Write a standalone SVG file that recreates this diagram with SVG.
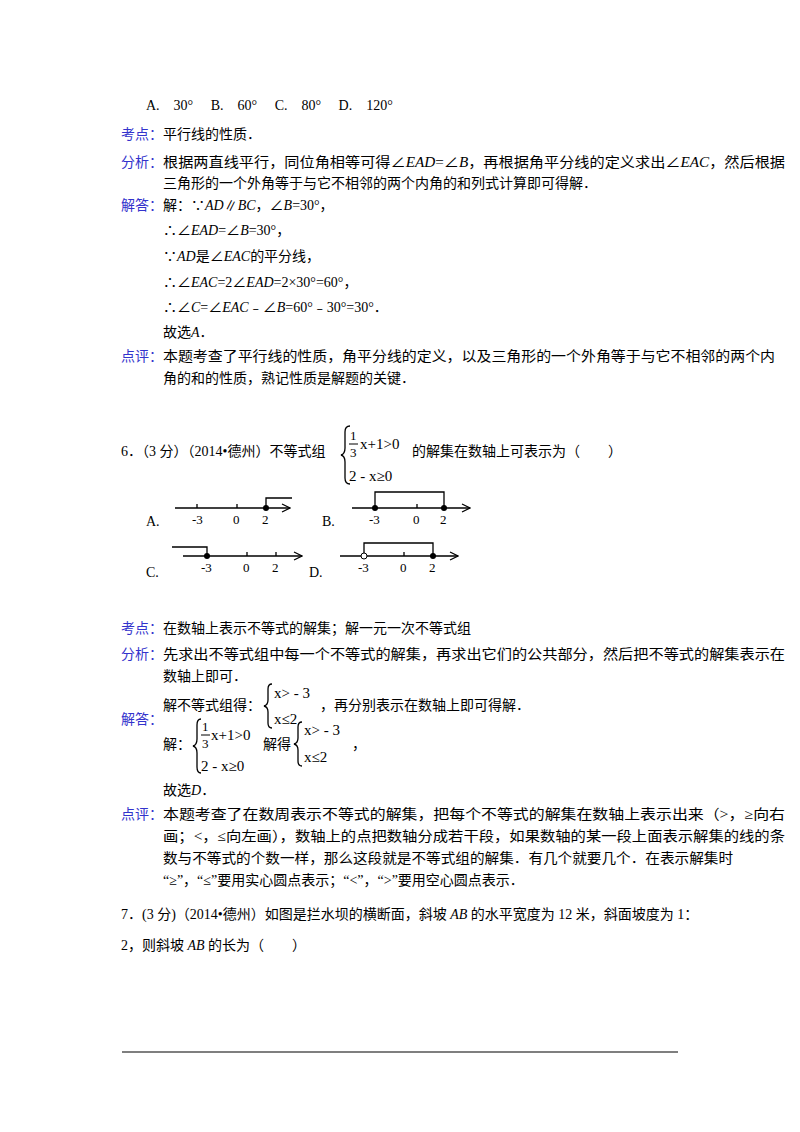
<svg xmlns="http://www.w3.org/2000/svg" width="800" height="1132" viewBox="0 0 800 1132">
<style>
text{font-family:"Liberation Serif","Noto Sans CJK SC",serif;font-size:14px;fill:#000}
.l{fill:#3333cc}
.i{font-style:italic}
.s{font-size:15px}
.f{font-size:13px}
.ax{stroke:#000;stroke-width:1.3;fill:none}
</style>
<defs><marker id="ar" markerWidth="10" markerHeight="10" refX="9" refY="5" orient="auto" markerUnits="userSpaceOnUse"><path d="M1,1 L9,5 L1,9" fill="none" stroke="#000" stroke-width="1.2"/></marker></defs>
<rect width="800" height="1132" fill="#fff"/>
<text x="146" y="110" xml:space="preserve">A.　30°　 B.　60°　 C.　80°　 D.　120°</text>
<text class="l" x="121" y="139">考点：</text><text x="163" y="139">平行线的性质．</text>
<text class="l" x="121" y="167">分析：</text>
<text x="163" y="167" textLength="622" lengthAdjust="spacingAndGlyphs">根据两直线平行，同位角相等可得∠<tspan class="i">EAD</tspan>=∠<tspan class="i">B</tspan>，再根据角平分线的定义求出∠<tspan class="i">EAC</tspan>，然后根据</text>
<text x="163" y="188">三角形的一个外角等于与它不相邻的两个内角的和列式计算即可得解．</text>
<text class="l" x="121" y="210">解答：</text>
<text x="163" y="210">解：∵<tspan class="i">AD</tspan>∥<tspan class="i">BC</tspan>，∠<tspan class="i">B</tspan>=30°，</text>
<text x="163" y="235">∴∠<tspan class="i">EAD</tspan>=∠<tspan class="i">B</tspan>=30°，</text>
<text x="163" y="261">∵<tspan class="i">AD</tspan>是∠<tspan class="i">EAC</tspan>的平分线，</text>
<text x="163" y="287">∴∠<tspan class="i">EAC</tspan>=2∠<tspan class="i">EAD</tspan>=2×30°=60°，</text>
<text x="163" y="312">∴∠<tspan class="i">C</tspan>=∠<tspan class="i">EAC</tspan>﹣∠<tspan class="i">B</tspan>=60°﹣30°=30°．</text>
<text x="163" y="337">故选<tspan class="i">A</tspan>．</text>
<text class="l" x="121" y="361">点评：</text>
<text x="163" y="361" textLength="612" lengthAdjust="spacingAndGlyphs">本题考查了平行线的性质，角平分线的定义，以及三角形的一个外角等于与它不相邻的两个内</text>
<text x="163" y="383">角的和的性质，熟记性质是解题的关键．</text>

<text x="121" y="456">6．（3 分）（2014•德州）不等式组</text>
<path d="M350,426 q-5,0 -5,6 v16 q0,6 -4,7 q4,1 4,7 v16 q0,6 5,6" class="ax"/>
<text x="350" y="440" class="f">1</text><line x1="349" y1="444" x2="358" y2="444" stroke="#000"/><text x="350" y="457" class="f">3</text>
<text x="360" y="449" class="s">x+1&gt;0</text>
<text x="349" y="481" class="s">2 - x≥0</text>
<text x="412" y="456">的解集在数轴上可表示为（　　）</text>

<g id="A">
<line x1="175" y1="508" x2="290" y2="508" class="ax" marker-end="url(#ar)"/>
<path d="M197,508v-4M237,508v-4" class="ax"/>
<circle cx="266" cy="508" r="3"/><path d="M266,508v-10h26" class="ax"/>
<text x="192" y="524" class="f">-3</text><text x="233" y="524" class="f">0</text><text x="262" y="524" class="f">2</text>
<text x="146" y="526">A.</text></g>
<g id="B">
<line x1="352" y1="508" x2="470" y2="508" class="ax" marker-end="url(#ar)"/>
<path d="M417,508v-4M375,508v-16h69v16" class="ax"/>
<circle cx="375" cy="508" r="3"/><circle cx="444" cy="508" r="3"/>
<text x="369" y="524" class="f">-3</text><text x="413" y="524" class="f">0</text><text x="440" y="524" class="f">2</text>
<text x="322" y="526">B.</text></g>
<g id="C">
<line x1="183" y1="556" x2="302" y2="556" class="ax" marker-end="url(#ar)"/>
<path d="M247,556v-4M276,556v-4M172,547h35v9" class="ax"/>
<circle cx="207" cy="556" r="3"/>
<text x="201" y="572" class="f">-3</text><text x="243" y="572" class="f">0</text><text x="272" y="572" class="f">2</text>
<text x="146" y="577">C.</text></g>
<g id="D">
<line x1="340" y1="556" x2="458" y2="556" class="ax" marker-end="url(#ar)"/>
<path d="M404,556v-4M364,553v-10h69v13" class="ax"/>
<circle cx="364" cy="556" r="3" fill="#fff" stroke="#000"/><circle cx="433" cy="556" r="3"/>
<text x="358" y="572" class="f">-3</text><text x="400" y="572" class="f">0</text><text x="429" y="572" class="f">2</text>
<text x="309" y="577">D.</text></g>

<text class="l" x="121" y="633">考点：</text><text x="163" y="633">在数轴上表示不等式的解集；解一元一次不等式组</text>
<text class="l" x="121" y="659">分析：</text>
<text x="163" y="659" textLength="622" lengthAdjust="spacingAndGlyphs">先求出不等式组中每一个不等式的解集，再求出它们的公共部分，然后把不等式的解集表示在</text>
<text x="163" y="681">数轴上即可．</text>
<text x="163" y="710">解不等式组得：</text>
<path d="M272,684 q-4,0 -4,5 v11 q0,5 -4,6 q4,1 4,6 v11 q0,5 4,5" class="ax"/>
<text x="274" y="698" class="s">x&gt; - 3</text><text x="274" y="724" class="s">x≤2</text>
<text x="320" y="710">，再分别表示在数轴上即可得解．</text>

<text class="l" x="121" y="724">解答：</text>
<text x="163" y="749">解：</text>
<path d="M201,719 q-4,0 -4,6 v14 q0,6 -4,7 q4,1 4,7 v14 q0,6 4,6" class="ax"/>
<text x="202" y="731" class="f">1</text><line x1="201" y1="735" x2="210" y2="735" stroke="#000"/><text x="202" y="748" class="f">3</text>
<text x="211" y="740" class="s">x+1&gt;0</text>
<text x="201" y="771" class="s">2 - x≥0</text>
<text x="263" y="749">解得</text>
<path d="M302,722 q-4,0 -4,5 v11 q0,5 -4,6 q4,1 4,6 v11 q0,5 4,5" class="ax"/>
<text x="304" y="735" class="s">x&gt; - 3</text><text x="304" y="762" class="s">x≤2</text>
<text x="352" y="749">，</text>
<text x="163" y="795">故选<tspan class="i">D</tspan>．</text>

<text class="l" x="121" y="819">点评：</text>
<text x="163" y="819" textLength="622" lengthAdjust="spacingAndGlyphs">本题考查了在数周表示不等式的解集，把每个不等式的解集在数轴上表示出来（&gt;，≥向右</text>
<text x="163" y="841" textLength="622" lengthAdjust="spacingAndGlyphs">画；&lt;，≤向左画），数轴上的点把数轴分成若干段，如果数轴的某一段上面表示解集的线的条</text>
<text x="163" y="863" textLength="570" lengthAdjust="spacingAndGlyphs">数与不等式的个数一样，那么这段就是不等式组的解集．有几个就要几个．在表示解集时</text>
<text x="163" y="885">“≥”，“≤”要用实心圆点表示；“&lt;”，“&gt;”要用空心圆点表示．</text>

<text x="121" y="919">7．(3 分)（2014•德州）如图是拦水坝的横断面，斜坡 <tspan class="i">AB</tspan> 的水平宽度为 12 米，斜面坡度为 1：</text>
<text x="121" y="950">2，则斜坡 <tspan class="i">AB</tspan> 的长为（　　）</text>
<line x1="122" y1="1052" x2="678" y2="1052" stroke="#000" stroke-width="1.2"/>
</svg>
